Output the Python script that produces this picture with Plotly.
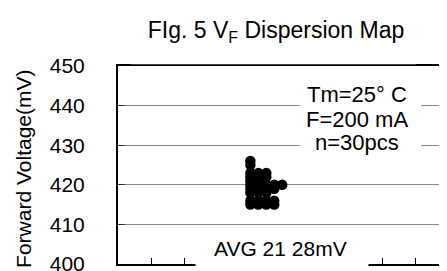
import plotly.graph_objects as go

# ---- data ----
sample_slot = [4.0,
               4.0,
               4.0, 4.24, 4.48,
               4.0, 4.24, 4.48,
               4.0, 4.24,
               4.0, 4.24, 4.48, 4.72, 4.96,
               4.0, 4.24, 4.48, 4.72,
               4.0, 4.24, 4.48,
               4.0, 4.24, 4.48, 4.72,
               4.0, 4.24, 4.48, 4.72]
vf_mV = [426,
         425,
         423, 423, 423,
         422, 422, 422,
         421, 421,
         420, 420, 420, 420, 420,
         419, 419, 419, 419,
         418, 418, 418,
         416, 416, 416, 416,
         415, 415, 415, 415]
y_ticks = [400, 410, 420, 430, 440, 450]
title_text = "FIg. 5 V<sub>F</sub> Dispersion Map"
y_title = "Forward Voltage(mV)"
cond_lines = ["Tm=25° C", "F=200 mA", "n=30pcs"]
avg_text = "AVG 21 28mV"

W, H = 447, 271
L, R, T, B = 110, 443, 58, 263
FONT = "Arial, Liberation Sans, sans-serif"


def px_x(px):
    return (px - L) / (R - L)


def px_y(py):
    return (B - py) / (B - T)


fig = go.Figure()
fig.add_trace(go.Scatter(
    x=sample_slot, y=vf_mV, mode="markers",
    marker=dict(color="black", size=10.5, line=dict(width=0)),
    showlegend=False, cliponaxis=False))

fig.update_layout(
    width=W, height=H,
    margin=dict(l=L, r=W - R, t=T, b=H - B),
    paper_bgcolor="white", plot_bgcolor="white",
    font=dict(family=FONT, size=21, color="black"),
    title=dict(text=title_text, x=268 / W, xanchor="center",
               y=1 - 22 / H, yanchor="middle",
               font=dict(family=FONT, size=23, color="black")),
    xaxis=dict(range=[0, 10], dtick=1, tick0=0, showticklabels=False,
               ticks="inside", ticklen=6, tickcolor="black", tickwidth=1,
               showgrid=False, zeroline=False,
               showline=True, linecolor="black", linewidth=2, mirror=True),
    yaxis=dict(range=[400, 450], tickvals=y_ticks,
               ticktext=[str(v) for v in y_ticks],
               ticks="inside", ticklen=7, tickcolor="#333333", tickwidth=1,
               ticklabelstandoff=27, ticklabeloverflow="allow",
               tickfont=dict(family=FONT, size=21, color="black"),
               showgrid=True, gridcolor="#888888", gridwidth=1,
               zeroline=False,
               showline=True, linecolor="black", linewidth=2, mirror=True),
)

shapes = [
    # white band hiding the bottom axis behind the AVG label
    dict(type="rect", xref="paper", yref="paper",
         x0=px_x(188), x1=px_x(362), y0=px_y(268), y1=px_y(229),
         fillcolor="white", line=dict(width=0), layer="above"),
    # white box behind the conditions text
    dict(type="rect", xref="paper", yref="paper",
         x0=px_x(293), x1=px_x(415), y0=px_y(152), y1=px_y(72),
         fillcolor="white", line=dict(width=0), layer="above"),
    # thin part of the top border (hide upper half of the thick line)
    dict(type="rect", xref="paper", yref="paper",
         x0=px_x(123), x1=px_x(410), y0=px_y(56.3), y1=px_y(53),
         fillcolor="white", line=dict(width=0), layer="above"),
]
fig.update_layout(shapes=shapes)

for line, cy in zip(cond_lines, [87, 113, 137]):
    fig.add_annotation(text=line, xref="paper", yref="paper",
                       x=px_x(350), y=px_y(cy), xanchor="center", yanchor="middle",
                       showarrow=False,
                       font=dict(family=FONT, size=22, color="black"))
fig.add_annotation(text=avg_text, xref="paper", yref="paper",
                   x=px_x(273), y=px_y(247), xanchor="center", yanchor="middle",
                   showarrow=False,
                   font=dict(family=FONT, size=21, color="black"))
fig.add_annotation(text=y_title, xref="paper", yref="paper",
                   x=px_x(15), y=px_y(165), xanchor="center", yanchor="middle",
                   textangle=-90, showarrow=False,
                   font=dict(family=FONT, size=21, color="black"))

fig.write_html("out.html")
